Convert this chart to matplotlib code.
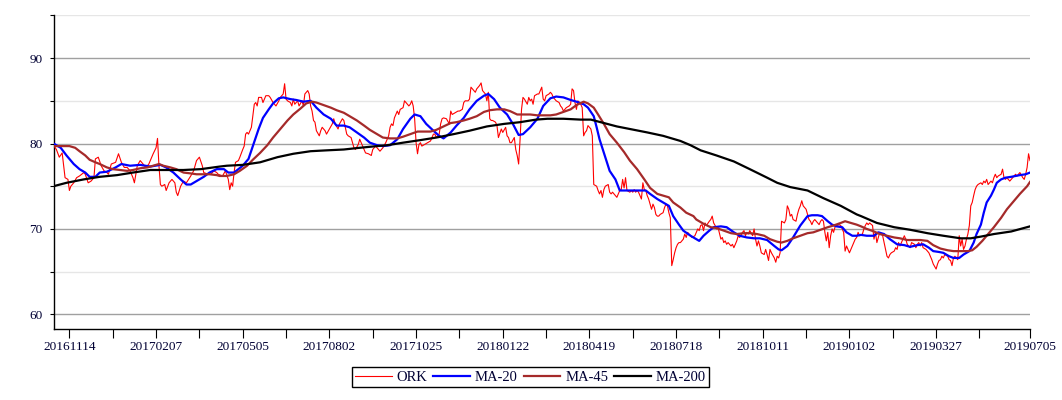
import matplotlib
matplotlib.use("Agg")
import matplotlib.pyplot as plt
import numpy as np

# ---------------- data (trading-day index, value) ----------------
ork_idx = [0,2,4,6,7,8,10,11,12,14,16,18,21,22,24,26,28,29,31,33,35,37,38,40,43,45,47,49,51,53,55,56,58,60,62,64,66,69,71,72,73,74,75,77,78,80,82,84,85,86,88,90,92,95,97,99,101,103,104,107,109,111,113,
           114,117,119,121,122,123,124,125,126,128,129,131,132,133,134,135,137,138,139,140,141,142,144,145,147,149,150,152,154,156,157,159,160,161,162,164,165,166,167,169,170,172,173,174,176,177,178,179,180,181,182,184,185,186,188,189,191,193,194,195,197,198,200,201,203,204,206,208,209,211,212,213,215,216,218,220,221,223,225,
           226,228,230,232,233,234,235,236,238,239,240,242,243,245,246,247,248,249,250,251,252,253,254,255,257,259,261,262,263,264,265,267,268,269,270,272,274,275,276,278,280,281,283,284,285,287,288,289,291,292,293,295,296,297,299,300,301,302,303,304,306,307,308,310,311,313,314,315,316,317,319,320,321,322,323,324,325,326,328,329,330,331,332,333,335,336,
           337,338,339,340,341,343,344,345,346,347,348,350,351,352,353,354,355,357,358,359,360,361,362,363,365,366,367,368,369,370,372,373,374,376,377,378,379,380,381,382,384,385,386,387,388,389,390,392,393,394,395,396,397,399,400,401,402,403,404,405,407,408,409,410,411,412,414,415,416,417,418,419,420,422,423,424,425,426,427,428,429,430,431,432,433,434,436,437,438,439,440,441,442,444,445,446,
           447,448,449,450,451,452,454,455,456,457,458,459,460,462,463,464,465,466,467,469,470,471,472,473,474,475,477,478,479,480,481,482,484,485,486,487,488,489,490,492,493,494,495,496,497,499,500,501,502,503,504,506,507,508,509,510,511,512,514,515,516,517,518,519,521,522,523,524,525,526,527,529,530,531,532,533,534,535,536,537,538,539,540,541,542,544,545,546,547,548,549,551,552,553,554,555,556,557,
           558,560,561,562,563,564,565,567,568,569,570,571,572,574,575,576,577,578,579,580,582,583,584,585,586,587,589,590,591,592,593,594,596,597,598,599,600,601,602,604,605,606,607,608,609,611,612,613,614,615,616,617,619,620,621,622,623,624,626,627,628,629,630,631,632,633,634,635,636,637,638,639,640,642,643,644,645,646,647,649,650,651,652,653,654,656,657,658,659,660,661,662,664,665,666,667,668,669,671,672,673,674,675,676]
ork_val = [79.8,79.3,78.4,78.9,77.4,76.0,75.8,74.5,75.0,75.4,76.0,76.2,76.6,76.4,75.4,75.6,76.0,78.2,78.4,77.4,76.8,76.6,76.4,77.6,77.8,78.8,77.8,77.2,77.2,76.8,76.0,75.4,77.4,78.0,77.6,77.2,77.6,78.8,79.5,80.6,77.4,75.2,75.0,75.2,74.5,75.4,75.8,75.4,74.3,73.9,75.0,75.6,75.4,76.2,76.8,78.0,78.4,77.4,76.6,76.4,76.4,76.8,76.6,
           76.4,76.2,76.8,75.8,74.6,75.4,75.0,76.6,77.8,78.0,78.4,79.3,79.7,81.1,81.3,81.1,81.9,83.2,84.6,84.8,84.4,85.4,85.4,84.8,85.6,85.6,85.4,84.8,84.4,85.0,85.4,85.8,87.0,85.2,85.0,84.8,84.4,85.2,84.6,85.0,84.4,85.0,84.4,85.8,86.2,85.8,84.4,83.8,82.7,82.5,81.5,80.9,81.5,81.9,81.5,81.1,81.7,82.3,82.9,82.3,81.7,82.3,82.9,82.7,81.1,80.9,80.7,79.5,79.3,79.9,80.5,80.1,79.3,78.9,78.8,78.6,79.3,79.7,79.3,
           79.1,79.5,80.1,80.9,81.9,82.3,82.1,83.0,83.8,83.4,84.0,84.2,85.0,84.6,84.4,84.6,85.0,84.4,82.9,80.1,78.8,79.9,80.1,79.7,79.9,80.1,80.3,80.7,81.1,81.1,80.7,81.1,82.3,82.9,83.0,82.9,82.3,83.8,83.4,83.6,83.8,83.8,84.0,84.8,85.0,85.0,85.2,86.6,86.2,86.0,86.4,86.8,87.1,86.2,85.8,85.0,86.0,82.9,82.7,82.7,82.5,82.1,80.7,81.7,81.3,81.9,80.9,80.7,80.1,80.1,80.7,79.3,78.6,77.6,80.5,84.0,85.4,85.2,84.6,85.4,85.0,85.2,84.6,85.6,85.8,85.8,
           86.2,86.6,85.2,85.0,85.6,85.8,86.0,85.8,85.4,85.2,85.0,84.8,84.4,84.2,83.8,84.0,84.2,84.4,84.6,86.4,86.2,84.8,84.0,85.0,84.6,84.2,80.9,81.3,81.5,82.1,81.7,80.9,75.2,75.0,74.5,74.1,74.5,73.7,74.6,75.0,75.2,74.3,74.1,74.3,74.1,73.9,73.7,74.5,74.6,75.8,74.8,76.0,74.5,74.3,74.5,74.3,74.6,74.3,74.5,74.3,73.5,75.4,74.6,74.5,73.9,73.5,72.3,72.9,72.5,71.7,71.5,71.5,71.7,71.9,72.5,72.9,72.7,71.9,71.3,65.7,66.4,67.2,67.8,68.2,68.4,68.4,68.8,69.4,69.0,69.6,69.4,69.2,69.0,69.2,69.6,70.0,
           69.8,70.4,70.5,69.8,70.7,70.4,70.9,71.1,71.5,70.7,70.4,70.0,70.2,68.8,69.0,68.4,68.6,68.2,68.4,68.0,68.2,67.8,68.2,68.6,69.2,69.0,69.6,69.8,69.2,69.6,69.4,69.8,69.2,70.0,68.8,68.0,68.6,68.0,67.2,67.0,67.6,67.0,66.3,67.6,67.2,66.6,66.1,66.8,66.6,67.2,70.9,70.7,71.1,72.7,72.3,71.5,71.7,71.1,70.9,71.7,72.3,72.7,73.3,72.7,72.3,71.7,71.1,70.9,70.5,70.9,71.1,70.7,70.5,70.9,71.1,70.9,69.6,68.6,69.6,67.8,69.2,70.0,69.6,70.2,70.4,70.5,70.4,70.0,69.6,67.4,68.0,67.2,67.6,68.0,68.4,68.8,69.0,69.6,
           69.2,69.4,70.0,70.4,70.7,70.5,70.7,70.4,68.8,69.6,68.4,69.0,69.6,69.2,68.4,67.6,66.8,66.6,67.0,67.2,67.4,67.8,67.6,68.4,68.0,68.4,69.2,68.8,68.2,68.0,67.8,68.4,68.2,67.8,68.2,68.4,68.0,68.4,67.8,67.6,67.4,67.2,66.8,66.4,65.9,65.3,65.9,66.3,66.4,66.8,66.6,67.0,66.8,66.4,66.3,65.7,66.6,66.8,66.4,69.2,68.0,68.8,67.6,68.0,68.8,69.4,70.4,72.7,73.1,73.9,74.6,75.0,75.2,75.4,75.2,75.6,75.4,75.8,75.2,75.6,75.4,76.0,76.4,76.0,76.2,76.4,77.0,76.0,75.8,76.0,75.8,75.6,76.0,76.2,76.4,76.2,76.4,76.6,76.0,75.8,76.4,77.2,78.8,78.0]

ma20_idx = [0,5,9,14,18,22,25,29,32,37,43,47,53,60,67,74,78,83,88,92,95,99,104,108,113,118,121,125,128,131,135,138,142,145,149,152,156,159,164,168,173,178,182,187,192,196,201,205,210,215,219,224,228,233,238,242,247,250,254,258,263,267,270,275,279,284,288,293,298,301,305,309,314,318,322,325,330,335,339,344,348,353,358,362,367,370,374,376,378,381,383,385,389,392,397,402,406,410,413,418,422,426,429,433,436,441,444,447,450,454,457,462,466,471,475,480,485,489,494,499,502,504,508,512,517,522,525,529,532,536,539,542,546,549,553,556,559,563,568,571,575,579,584,589,593,598,602,606,609,613,616,620,623,627,630,634,637,639,642,644,646,649,651,653,656,659,663,666,669,673,676]
ma20_val = [80.0,79.5,78.6,77.6,77.0,76.6,76.1,76.1,76.6,76.7,77.2,77.6,77.4,77.5,77.3,77.5,77.2,76.6,75.8,75.2,75.2,75.6,76.1,76.6,77.0,77.0,76.6,76.6,77.0,77.4,78.2,79.7,81.7,83.0,84.0,84.7,85.3,85.4,85.2,85.1,84.9,85.0,84.2,83.4,82.9,82.1,82.1,81.9,81.3,80.7,80.1,79.8,79.7,79.8,80.5,81.7,82.9,83.4,83.2,82.3,81.5,80.9,80.6,81.3,82.1,83.0,84.0,85.0,85.6,85.8,85.2,84.2,83.4,82.3,81.0,81.1,81.9,82.9,84.4,85.3,85.5,85.4,85.1,84.9,84.6,84.2,83.2,81.9,80.5,78.9,77.8,76.8,75.8,74.5,74.5,74.5,74.5,74.5,74.1,73.5,73.1,72.7,71.5,70.5,69.8,69.2,68.9,68.6,69.2,69.8,70.2,70.3,70.2,69.6,69.2,69.0,68.9,68.9,68.7,68.0,67.6,67.5,68.0,69.0,70.4,71.5,71.6,71.6,71.5,70.9,70.5,70.3,70.2,69.6,69.2,69.2,69.3,69.2,69.2,69.6,69.4,68.8,68.2,68.1,67.9,68.1,68.2,67.8,67.4,67.3,67.2,66.8,66.6,66.6,67.0,67.4,68.4,69.4,70.5,71.9,73.1,73.9,74.6,75.4,75.8,76.0,76.1,76.2,76.3,76.4,76.6]

ma45_idx = [0,5,11,15,18,22,25,29,32,37,41,46,51,55,60,65,69,73,76,81,85,90,95,99,104,108,113,115,120,125,129,134,138,143,148,152,157,162,166,171,175,179,182,187,192,196,201,205,210,215,219,224,228,233,238,242,247,252,256,261,265,270,275,279,284,288,293,298,302,307,312,316,321,325,330,335,340,344,348,353,358,362,367,370,374,377,381,385,390,395,399,404,409,413,418,422,426,429,434,438,443,445,450,455,459,464,469,473,478,482,487,492,496,501,504,508,512,517,522,526,531,536,540,545,548,552,556,559,563,568,572,577,582,586,591,596,600,605,609,614,619,623,628,633,636,639,643,646,651,656,660,665,669,674,676]
ma45_val = [79.7,79.7,79.7,79.5,79.1,78.6,78.1,77.8,77.6,77.2,77.0,76.9,76.8,76.9,77.1,77.2,77.4,77.6,77.4,77.2,77.0,76.6,76.5,76.4,76.4,76.4,76.3,76.2,76.2,76.4,76.8,77.4,78.1,78.9,79.8,80.7,81.7,82.7,83.4,84.1,84.7,84.9,84.8,84.5,84.2,83.9,83.6,83.2,82.7,82.1,81.6,81.1,80.7,80.6,80.6,80.8,81.1,81.4,81.4,81.4,81.6,82.0,82.4,82.5,82.7,82.9,83.2,83.7,83.9,84.0,84.0,83.8,83.4,83.4,83.4,83.3,83.3,83.3,83.4,83.7,84.0,84.5,84.9,84.7,84.2,83.4,82.3,81.1,80.1,79.0,78.0,77.0,75.8,74.8,74.1,73.9,73.7,73.1,72.5,71.9,71.5,71.1,70.6,70.2,70.1,69.8,69.5,69.4,69.5,69.5,69.4,69.2,68.8,68.5,68.4,68.6,68.9,69.2,69.5,69.6,69.9,70.2,70.4,70.7,70.9,70.7,70.5,70.3,70.0,69.7,69.4,69.2,69.0,68.9,68.7,68.7,68.7,68.6,68.1,67.7,67.5,67.4,67.4,67.4,67.5,67.9,68.6,69.2,70.2,71.3,72.3,73.3,74.1,75.0,75.5]

ma200_idx = [0,9,21,32,44,55,67,78,90,102,115,120,131,143,155,166,178,189,201,212,224,231,242,254,265,277,288,300,312,323,334,342,353,365,372,381,390,399,411,422,434,441,448,459,471,482,494,501,510,522,533,545,556,559,570,582,593,605,616,628,635,642,651,663,676]
ma200_val = [75.0,75.4,75.8,76.1,76.3,76.6,76.9,76.9,76.9,77.0,77.3,77.4,77.5,77.8,78.4,78.8,79.1,79.2,79.3,79.5,79.7,79.8,80.1,80.4,80.7,81.1,81.5,82.0,82.3,82.5,82.8,82.9,82.9,82.8,82.8,82.4,82.0,81.7,81.3,80.9,80.3,79.8,79.2,78.6,77.9,77.0,76.0,75.4,74.9,74.5,73.6,72.7,71.7,71.5,70.7,70.2,69.9,69.5,69.2,68.9,68.9,69.1,69.4,69.7,70.3]

label_idx = [11, 71, 131, 191, 251, 311, 371, 431, 491, 551, 611, 676]
label_txt = ["20161114", "20170207", "20170505", "20170802", "20171025", "20180122",
             "20180419", "20180718", "20181011", "20190102", "20190327", "20190705"]
last_index = 676

# ---------------- figure ----------------
plt.rcParams['font.family'] = ['Liberation Serif', 'DejaVu Serif']
txt_col = '#000033'

fig = plt.figure(figsize=(10.62, 4.0), dpi=100)
ax = fig.add_axes([53.5/1062, (400-329)/400, (1030-53.5)/1062, (329-15)/400])

ax.plot(ork_idx, ork_val, color='#ff0000', lw=0.8, label='ORK', zorder=3)
ax.plot(ma20_idx, ma20_val, color='#0000ff', lw=1.6, label='MA-20', zorder=4)
ax.plot(ma45_idx, ma45_val, color='#a52a2a', lw=1.6, label='MA-45', zorder=5)
ax.plot(ma200_idx, ma200_val, color='#000000', lw=1.6, label='MA-200', zorder=6)

ax.set_xlim(0, last_index)
ax.set_ylim(58.28, 95.05)

# y axis
ax.set_yticks([60, 70, 80, 90])
ax.set_yticks([65, 75, 85, 95], minor=True)
ax.grid(True, axis='y', which='major', color='#a0a0a0', lw=1.0, zorder=0)
ax.grid(True, axis='y', which='minor', color='#e6e6e6', lw=1.0, zorder=0)
ax.tick_params(axis='y', which='both', direction='out', length=3, width=0.8,
               pad=5, labelsize=9.5, labelcolor=txt_col)

# x axis
ax.set_xticks(label_idx)
ax.set_xticklabels(label_txt)
ax.set_xticks(list(range(41, last_index, 60)), minor=True)
ax.tick_params(axis='x', which='both', direction='out', length=6.5, width=0.8,
               pad=2, labelsize=9.5, labelcolor=txt_col)

for s in ['top', 'right']:
    ax.spines[s].set_visible(False)
for s in ['left', 'bottom']:
    ax.spines[s].set_color('black')
    ax.spines[s].set_linewidth(1.0)

leg = fig.legend(loc='center', bbox_to_anchor=(530.5/1062, (400-377)/400), ncol=4,
                 fontsize=10.5, handlelength=2.5, handletextpad=0.35, columnspacing=0.4,
                 borderpad=0.2, borderaxespad=0, fancybox=False, framealpha=1,
                 edgecolor='black')
leg.get_frame().set_linewidth(1.0)
for t in leg.get_texts():
    t.set_color(txt_col)

fig.savefig('out.png', dpi=100)
